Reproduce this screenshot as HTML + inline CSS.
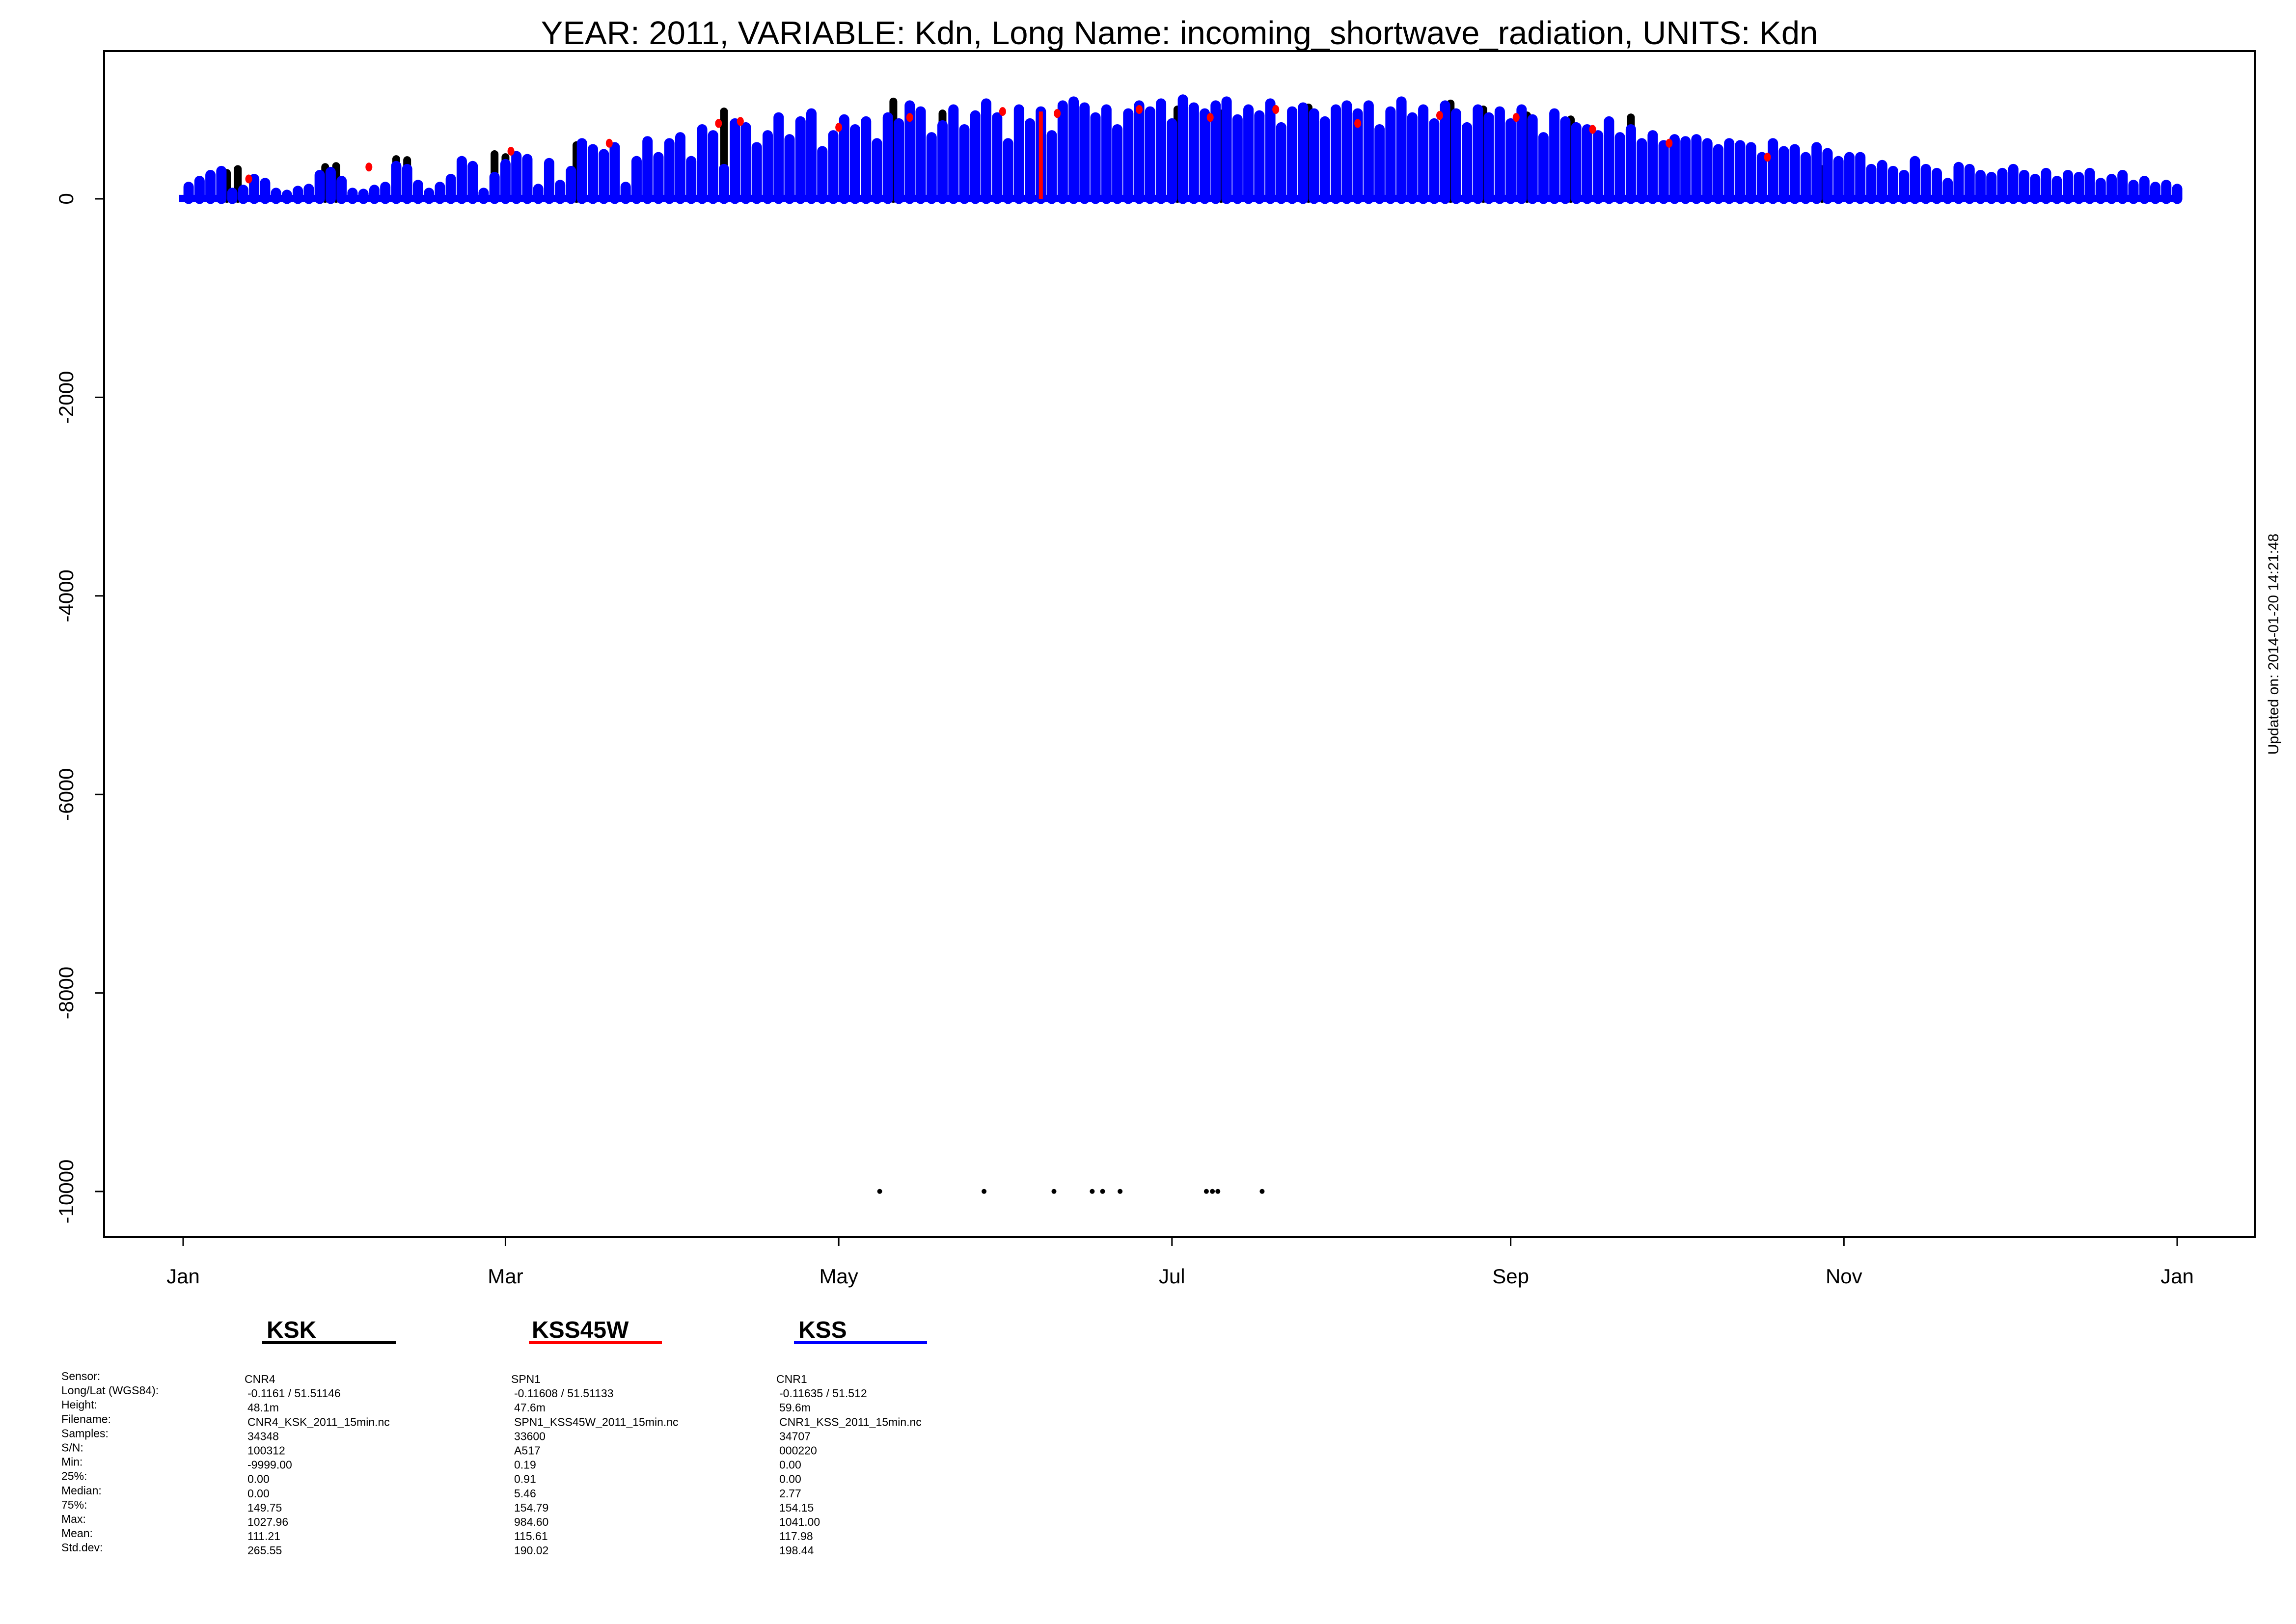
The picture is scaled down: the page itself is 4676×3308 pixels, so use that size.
<!DOCTYPE html>
<html><head><meta charset="utf-8"><style>
html,body{margin:0;padding:0;background:#fff;}
svg{display:block;font-family:"Liberation Sans",sans-serif;}
</style></head><body>
<svg id="chart" width="4676" height="3308" viewBox="0 0 4676 3308" xmlns="http://www.w3.org/2000/svg">
<text x="2402" y="90" font-size="67" text-anchor="middle">YEAR: 2011, VARIABLE: Kdn, Long Name: incoming_shortwave_radiation, UNITS: Kdn</text>
<g id="marks"></g>
<rect x="212" y="104" width="4380" height="2416" fill="none" stroke="#000" stroke-width="4"/>
<g id="yaxis"></g>
<g id="xaxis"></g>
<text transform="translate(4640,1312) rotate(-90)" font-size="30" text-anchor="middle">Updated on: 2014-01-20 14:21:48</text>
<g>
<text x="543" y="2725" font-size="48" font-weight="bold">KSK</text>
<line x1="534" y1="2735" x2="806" y2="2735" stroke="#000" stroke-width="6"/>
<text x="1083" y="2725" font-size="48" font-weight="bold">KSS45W</text>
<line x1="1077" y1="2735" x2="1348" y2="2735" stroke="#f00" stroke-width="6"/>
<text x="1626" y="2725" font-size="48" font-weight="bold">KSS</text>
<line x1="1617" y1="2735" x2="1888" y2="2735" stroke="#00f" stroke-width="6"/>
</g>
<g id="table" font-size="23"></g>
</svg>
<script>
// KSS (blue) 2-day peak values, W/m2
const kssPeaks = [120,180,240,280,60,90,200,160,60,40,80,100,240,270,180,60,
50,90,120,330,300,140,60,120,200,380,330,60,220,350,
430,400,100,360,140,280,560,500,450,520,120,380,580,420,560,
620,380,700,640,300,760,720,520,640,820,600,780,860,480,640,
800,700,780,560,820,760,940,880,620,740,900,700,840,960,820,560,
900,760,880,640,940,980,920,820,900,700,860,940,880,960,760,
1000,920,860,940,980,800,900,840,960,720,880,920,860,780,900,940,
860,940,700,880,980,820,900,760,940,860,720,900,820,880,760,
900,800,620,860,780,720,700,640,780,620,700,560,640,540,600,
580,600,560,500,560,540,520,420,560,480,500,420,520,460,380,420,
420,300,340,280,240,380,300,260,160,320,300,240,220,260,300,
240,200,260,180,240,220,260,160,200,240,140,180,120,140,100];
// KSK (black) visible tops: [day, value]
const kskDays = [8,10,26,28,39,41,57,59,72,99,130,139,141,165,182,190,206,232,238,246,254,265,300];
const kskVals = [260,300,320,330,400,390,450,420,540,880,980,860,900,920,900,860,920,960,900,840,800,820,300];
// KSS45W (red) visible dots: [day, value]
const redDays = [12,34,60,78,98,102,120,133,150,160,175,188,200,215,230,244,258,272,290];
const redVals = [200,320,480,560,760,780,720,820,880,860,900,820,900,760,840,820,700,560,420];
const redBarDay = 157, redBarVal = 880;
// KSK missing-value (-9999) points
const outlierDays = [127.5,146.6,159.4,166.4,168.3,171.5,187.3,188.4,189.4,197.5];
const outlierVal = -9999;
const yTicks = [0,-2000,-4000,-6000,-8000,-10000];
const monthLabels = ["Jan","Mar","May","Jul","Sep","Nov","Jan"];
const monthDays = [0,59,120,181,243,304,365];
const statLabels = ["Sensor:","Long/Lat (WGS84):","Height:","Filename:","Samples:","S/N:","Min:","25%:","Median:","75%:","Max:","Mean:","Std.dev:"];
const statKSK = ["CNR4","-0.1161 / 51.51146","48.1m","CNR4_KSK_2011_15min.nc","34348","100312","-9999.00","0.00","0.00","149.75","1027.96","111.21","265.55"];
const statKSS45W = ["SPN1","-0.11608 / 51.51133","47.6m","SPN1_KSS45W_2011_15min.nc","33600","A517","0.19","0.91","5.46","154.79","984.60","115.61","190.02"];
const statKSS = ["CNR1","-0.11635 / 51.512","59.6m","CNR1_KSS_2011_15min.nc","34707","000220","0.00","0.00","2.77","154.15","1041.00","117.98","198.44"];

const NS="http://www.w3.org/2000/svg";
const X = d => 373 + d*(4434-373)/365;
const Y = v => 405 + (0 - v)*(2427-405)/10000;
function mk(tag, attrs, parent){const e=document.createElementNS(NS,tag);for(const k in attrs)e.setAttribute(k,attrs[k]);parent.appendChild(e);return e;}
const marks=document.getElementById('marks');
const base=mk('rect',{x:X(0)-8,y:Y(40),width:X(365)-X(0)+16,height:Y(0)-Y(40)+7,fill:'#00f'},marks);


kskDays.forEach((d,i)=>{
  const l=mk('line',{x1:X(d),y1:Y(0),x2:X(d),y2:Y(kskVals[i]),stroke:'#000','stroke-width':16,'stroke-linecap':'round'},marks);
  
  
});
kssPeaks.forEach((v,i)=>{
  const d=i*2+1;
  const l=mk('line',{x1:X(d),y1:Y(0),x2:X(d),y2:Y(v),stroke:'#00f','stroke-width':21,'stroke-linecap':'round'},marks);
  
  
});
redDays.forEach((d,i)=>{
  const c=mk('ellipse',{cx:X(d),cy:Y(redVals[i]),rx:7,ry:9,fill:'#f00'},marks);
  
  
});
const rb=mk('line',{x1:X(redBarDay),y1:Y(0),x2:X(redBarDay),y2:Y(redBarVal),stroke:'#f00','stroke-width':8},marks);


outlierDays.forEach(d=>{
  const c=mk('circle',{cx:X(d),cy:Y(outlierVal),r:5,fill:'#000'},marks);
  
  
});
const ya=document.getElementById('yaxis');
yTicks.forEach(t=>{
  const l=mk('line',{x1:194,y1:Y(t),x2:212,y2:Y(t),stroke:'#000','stroke-width':3},ya);
  
  
  const tx=mk('text',{transform:`translate(149,${Y(t)}) rotate(-90)`,'font-size':42,'text-anchor':'middle'},ya);
  tx.textContent=String(t);
  
  
});
const xa=document.getElementById('xaxis');
monthDays.forEach((d,i)=>{
  const l=mk('line',{x1:X(d),y1:2520,x2:X(d),y2:2538,stroke:'#000','stroke-width':3},xa);
  
  
  const tx=mk('text',{x:X(d),y:2614,'font-size':42,'text-anchor':'middle'},xa);
  tx.textContent=monthLabels[i];
  
  
});
const tb=document.getElementById('table');
statLabels.forEach((s,i)=>{
  const y=2811+i*29.1;
  const a=mk('text',{x:125,y:y},tb);a.textContent=s;
  
  
  [[statKSK,504],[statKSS45W,1047],[statKSS,1587]].forEach(([arr,x])=>{
    const t=mk('text',{x:i===0?x-6:x,y:y+6},tb);t.textContent=arr[i];
    
    
  });
});
</script>
</body></html>
